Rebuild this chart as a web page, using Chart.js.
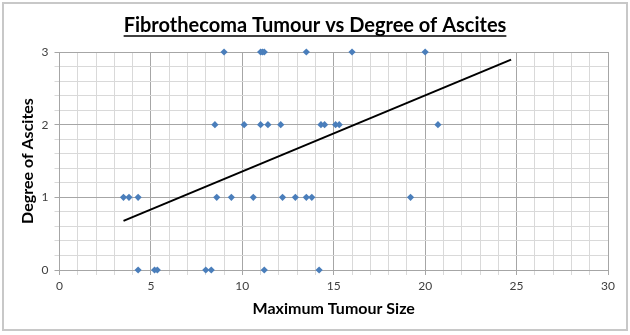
<!DOCTYPE html>
<html>
<head>
<meta charset="utf-8">
<script src="https://cdn.jsdelivr.net/npm/chart.js@4"></script>
<style>
  html, body { margin: 0; padding: 0; background: #fff; }
  #wrap { width: 630px; height: 335px; }
</style>
</head>
<body>
<div id="wrap"><canvas id="chart"></canvas></div>
<script>
// tumour size (x) and degree of ascites (y)
const tumourSize = [
  9.0, 11.0, 11.1, 11.2, 13.5, 16.0, 20.0,
  8.5, 10.1, 11.0, 11.4, 12.1, 14.3, 14.5, 15.1, 15.3, 20.7,
  3.5, 3.8, 4.3, 8.6, 9.4, 10.6, 12.2, 12.9, 13.5, 13.8, 19.2,
  4.3, 5.2, 5.35, 8.0, 8.3, 11.2, 14.2
];
const ascitesDegree = [
  3, 3, 3, 3, 3, 3, 3,
  2, 2, 2, 2, 2, 2, 2, 2, 2, 2,
  1, 1, 1, 1, 1, 1, 1, 1, 1, 1, 1,
  0, 0, 0, 0, 0, 0, 0
];
const xTicks = [0, 5, 10, 15, 20, 25, 30];
const yTicks = [0, 1, 2, 3];
const forecastForward = 4;

const points = tumourSize.map((x, i) => ({ x: x, y: ascitesDegree[i] }));

// linear trendline like excel
function trend(xs, ys) {
  let n = xs.length, sx = 0, sy = 0, sxy = 0, sxx = 0;
  for (let i = 0; i < n; i++) {
    sx += xs[i]; sy += ys[i]; sxy += xs[i] * ys[i]; sxx += xs[i] * xs[i];
  }
  const m = (n * sxy - sx * sy) / (n * sxx - sx * sx);
  const b = (sy - m * sx) / n;
  const x0 = Math.min(...xs), x1 = Math.max(...xs) + forecastForward;
  return [{ x: x0, y: m * x0 + b }, { x: x1, y: m * x1 + b }];
}
const trendPts = trend(tumourSize, ascitesDegree);

const font = "Lato, 'Open Sans', sans-serif";
const titleText = "Fibrothecoma Tumour vs Degree of Ascites";

// border box + underlined title (chart.js title can't underline)
const decor = {
  id: "decor",
  beforeDraw(chart) {
    const c = chart.ctx;
    c.save();
    c.fillStyle = "#fff";
    c.fillRect(0, 0, chart.width, chart.height);
    c.strokeStyle = "#c8c8c8";
    c.lineWidth = 2;
    c.strokeRect(3, 3, 624, 327);
    c.restore();
  },
  afterDraw(chart) {
    const c = chart.ctx;
    c.save();
    c.font = "bold 20px " + font;
    c.fillStyle = "#000";
    c.textAlign = "center";
    c.textBaseline = "alphabetic";
    const cx = chart.width / 2;
    c.fillText(titleText, cx, 32);
    const w = c.measureText(titleText).width;
    c.strokeStyle = "#000";
    c.lineWidth = 1.5;
    c.beginPath();
    c.moveTo(cx - w / 2, 36);
    c.lineTo(cx + w / 2, 36);
    c.stroke();
    c.restore();
  }
};

new Chart(document.getElementById("chart"), {
  type: "scatter",
  data: {
    datasets: [
      {
        label: "Degree of Ascites",
        data: points,
        pointStyle: "rectRot",
        radius: 3.6,
        backgroundColor: "#4a7ebb",
        borderColor: "#4a7ebb",
        borderWidth: 0,
        clip: false
      },
      {
        label: "Linear",
        type: "line",
        data: trendPts,
        borderColor: "#000",
        borderWidth: 2,
        pointRadius: 0,
        fill: false
      }
    ]
  },
  options: {
    responsive: true,
    maintainAspectRatio: false,
    animation: false,
    layout: { padding: { left: 0, right: 22, top: 52, bottom: 0 } },
    plugins: {
      legend: { display: false },
      tooltip: { enabled: false },
      title: { display: false }
    },
    scales: {
      x: {
        type: "linear",
        min: 0, max: 30,
        afterBuildTicks(s) { s.ticks = Array.from({ length: 31 }, (_, i) => ({ value: i })); },
        afterFit(s) { s.height = 65; },
        ticks: {
          autoSkip: false,
          maxRotation: 0,
          color: "#404040",
          font: { family: font, size: 12 },
          padding: 4,
          callback: v => xTicks.includes(v) ? v : ""
        },
        grid: {
          color: ctx => (ctx.tick && ctx.tick.value % 5 === 0) ? "#a6a6a6" : "#d9d9d9",
          tickLength: 5
        },
        border: { color: "#a6a6a6" },
        title: {
          display: true,
          text: "Maximum Tumour Size",
          color: "#000",
          font: { family: font, size: 16, weight: "bold" },
          padding: { top: 4, bottom: 16.4 }
        }
      },
      y: {
        type: "linear",
        min: 0, max: 3,
        afterBuildTicks(s) { s.ticks = Array.from({ length: 16 }, (_, i) => ({ value: Math.round(i * 2) / 10 })); },
        afterFit(s) { s.width = 59.5; },
        ticks: {
          autoSkip: false,
          color: "#404040",
          font: { family: font, size: 12 },
          padding: 6,
          callback: v => yTicks.includes(v) ? v : ""
        },
        grid: {
          color: ctx => (ctx.tick && Number.isInteger(ctx.tick.value)) ? "#a6a6a6" : "#d9d9d9",
          tickLength: 5
        },
        border: { color: "#a6a6a6" },
        title: {
          display: true,
          text: "Degree of Ascites",
          color: "#000",
          font: { family: font, size: 16, weight: "bold" },
          padding: { top: 18.4 }
        }
      }
    }
  },
  plugins: [decor]
});
</script>
</body>
</html>
